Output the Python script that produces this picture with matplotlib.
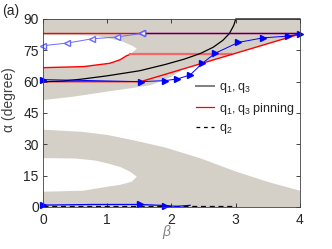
import numpy as np
import matplotlib
matplotlib.use("Agg")
import matplotlib.pyplot as plt

plt.rcParams['font.family'] = ['Liberation Sans', 'DejaVu Sans']
plt.rcParams['mathtext.fontset'] = 'custom'
plt.rcParams['mathtext.rm'] = 'Liberation Sans'

GREY = '#d4d0c8'

# shaded regions (beta, alpha) boundaries
upper_low_b = [0, 0.47, 0.99, 1.4, 1.67, 1.85, 2.0, 2.2, 4.0]
upper_low_a = [51.2, 52.8, 55.2, 57.0, 58.3, 60.3, 62.5, 66.3, 82.8]
tongue_hi_b = [0, 0.5, 0.8, 1.04, 1.2, 1.3, 1.4, 1.46]
tongue_hi_a = [82.3, 82.3, 82.0, 80.7, 79.6, 78.4, 77.0, 75.8]
tongue_lo_b = [1.46, 1.4, 1.36, 1.30, 1.2, 1.04, 0.63, 0]
tongue_lo_a = [75.8, 74.2, 73.1, 72.4, 70.5, 68.8, 67.2, 66.7]

lower_hi_b = [0, 0.6, 1.0, 1.4, 1.9, 2.45, 3.0, 3.5, 4.0]
lower_hi_a = [37.0, 36.0, 34.5, 32.0, 28.5, 23.3, 17.0, 12.0, 7.8]
ltongue_hi_b = [0, 0.5, 0.8, 1.0, 1.2, 1.35, 1.46]
ltongue_hi_a = [23.4, 23.2, 22.3, 20.9, 19.2, 17.0, 14.5]
ltongue_lo_b = [1.46, 1.38, 1.2, 1.0, 0.63, 0]
ltongue_lo_a = [14.5, 12.1, 10.6, 9.7, 7.8, 7.3]

# q1,q3 (black)
q13_b = [0, 0.3, 0.6, 1.0, 1.5, 1.9, 2.2, 2.45, 2.65, 2.8, 2.9, 2.97, 3.0, 4.0]
q13_a = [60, 60.3, 61.2, 62.8, 65.2, 68.2, 70.8, 73.5, 76.5, 79.8, 83.0, 87.0, 90, 90]

# q1,q3 pinning (red)
pin_top_b = [0, 4]
pin_top_a = [83.2, 83.2]
pin_mid_b = [0, 0.63, 1.04, 1.2, 1.30, 1.36]
pin_mid_a = [66.7, 67.2, 68.8, 70.5, 72.4, 73.1]
pin_flat_b = [1.36, 2.92]
pin_flat_a = [73.1, 73.1]
pin_low_b = [0, 1.52, 4.0]
pin_low_a = [60.0, 60.0, 82.8]

# q2 (dashed)
q2_b = [0, 3.0]
q2_a = [0.6, 0.6]

# trajectories
up_b = [0, 1.52, 1.90, 2.09, 2.29, 2.48, 2.68, 3.04, 3.43, 3.81, 4.0]
up_a = [61.0, 60.0, 60.5, 61.3, 63.2, 68.8, 73.6, 78.8, 81.0, 81.8, 82.8]
back_b = [4.0, 1.54]
back_a = [83.1, 83.1]
back2_b = [1.54, 1.15, 0.76, 0.38, 0]
back2_a = [83.1, 81.4, 80.5, 78.5, 77.2]
bot_b = [0, 0.76, 1.51, 1.9, 2.08, 2.29]
bot_a = [0.9, 1.2, 1.2, 0.7, 0.3, 0.8]

fig = plt.figure(figsize=(3.32, 2.49), dpi=100)
ax = fig.add_axes([0.1295, 0.1687, 0.7741, 0.755])

ax.fill(upper_low_b + [4, 0], upper_low_a + [90, 90], color=GREY, lw=0)
ax.fill(tongue_hi_b + tongue_lo_b, tongue_hi_a + tongue_lo_a, color='white', lw=0)
ax.fill([0] + lower_hi_b + [4], [0] + lower_hi_a + [0], color=GREY, lw=0)
ax.fill(ltongue_hi_b + ltongue_lo_b, ltongue_hi_a + ltongue_lo_a, color='white', lw=0)

ax.plot(pin_top_b, pin_top_a, color='red', lw=1)
ax.plot(pin_mid_b, pin_mid_a, color='red', lw=1)
ax.plot(pin_flat_b, pin_flat_a, color='#f06868', lw=1.6)
ax.plot(pin_low_b, pin_low_a, color='red', lw=1)
ax.plot(q13_b, q13_a, color='black', lw=0.9, clip_on=False)
ax.plot(q2_b, q2_a, color='black', lw=0.9, ls=(0, (4, 3)))

ax.plot(up_b, up_a, color='blue', lw=0.7, marker='>', ms=4, mfc='blue', mec='blue', clip_on=False)
ax.plot(back_b, back_a, color='blue', lw=0.9, marker='<', ms=4, markevery=[1], clip_on=False)
ax.plot(back2_b, back2_a, color='#6a6aff', lw=0.7, marker='<', ms=4, mfc='white', mec='#6a6aff', clip_on=False)
ax.plot(bot_b, bot_a, color='blue', lw=0.9, marker='>', ms=4, markevery=[0, 2, 3], clip_on=False)

# legend handles
h1, = ax.plot([], [], color='#808080', lw=1.4)
h2, = ax.plot([], [], color='red', lw=0.9)
h3, = ax.plot([], [], color='black', lw=0.9, ls=(0, (3, 3)))
ax.legend([h1, h2, h3],
          [r'$\mathregular{q_1, q_3}$', r'$\mathregular{q_1, q_3}$ pinning', r'$\mathregular{q_2}$'],
          loc='upper left', bbox_to_anchor=(0.55, 0.73), frameon=False,
          fontsize=9, handlelength=1.5, handletextpad=0.4, labelspacing=0.45,
          labelcolor='#262626')

ax.set_xlim(0, 4)
ax.set_ylim(0, 90)
ax.set_xticks([0, 1, 2, 3, 4])
ax.set_yticks([0, 15, 30, 45, 60, 75, 90])
ax.tick_params(direction='in', top=True, right=True, length=3, width=0.6,
               labelsize=10, colors='#262626', pad=3)
ax.tick_params(axis='x', pad=4)
for s in ax.spines.values():
    s.set_linewidth(0.6)
    s.set_color('#404040')

ax.set_ylabel('α (degree)', fontsize=10, color='#404040')
ax.yaxis.set_label_coords(-0.105, 0.57)
ax.text(0.48, -0.135, 'β', transform=ax.transAxes, fontsize=10, style='italic',
        color='#808080', ha='center', va='center')
fig.text(0.005, 0.955, '(a)', fontsize=10, color='#262626', va='center')

fig.savefig('out.png', dpi=100)
